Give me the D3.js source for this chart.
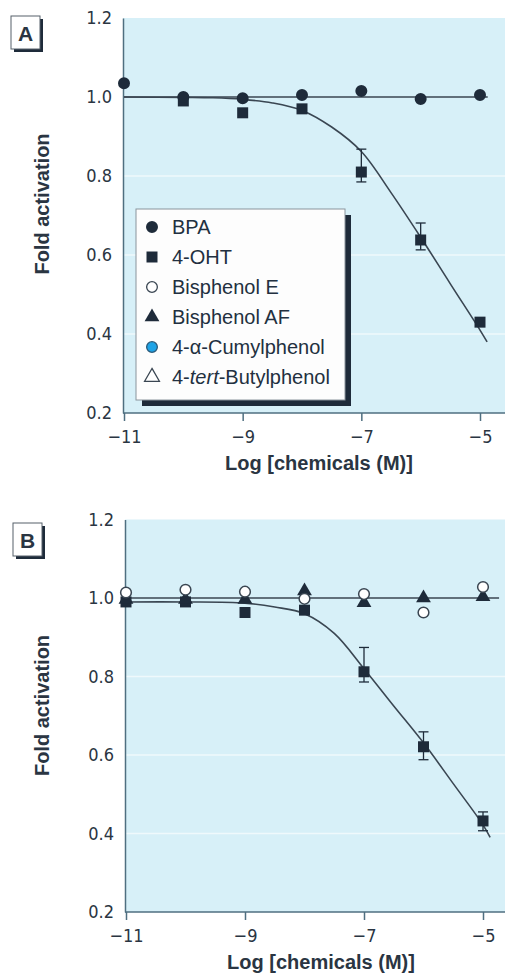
<!DOCTYPE html>
<html>
<head>
<meta charset="utf-8">
<script src="https://cdn.jsdelivr.net/npm/d3@7"></script>
<style>
  body { margin: 0; background: #fff; }
  svg { display: block; }
  .tick text { font-family: "Liberation Sans Narrow", "DejaVu Sans Condensed", "Liberation Sans", sans-serif; font-size: 18px; fill: #2a3542; }
</style>
</head>
<body>
<svg id="chart" width="505" height="977"></svg>
<script>
// ---- data ----
var xTicks = [-11, -9, -7, -5];
var yTicks = [0.2, 0.4, 0.6, 0.8, 1.0, 1.2];
var doses = [-11, -10, -9, -8, -7, -6, -5];

var legendNames = ["BPA", "4-OHT", "Bisphenol E", "Bisphenol AF", "4-\u03b1-Cumylphenol", "4-tert-Butylphenol"];

// panel A
var bpaA = [1.035, 1.0, 0.997, 1.005, 1.015, 0.995, 1.005];
var ohtDosesA = [-10, -9, -8, -7, -6, -5];
var ohtA = [0.99, 0.96, 0.97, 0.81, 0.638, 0.43];
var ohtErrHiA = [0, 0, 0, 0.058, 0.043, 0];
var ohtErrLoA = [0, 0, 0, 0.025, 0.025, 0];
var flatA = [[-11, 1.0], [-4.87, 1.0]];
var fitA = [[-11, 1.0], [-10, 0.999], [-9.5, 0.998], [-9, 0.994], [-8.5, 0.985], [-8, 0.966],
            [-7.5, 0.924], [-7, 0.862], [-6.5, 0.758], [-6, 0.645], [-5.5, 0.527], [-5, 0.41], [-4.88, 0.38]];

// panel B
var ohtB = [0.99, 0.99, 0.963, 0.969, 0.812, 0.621, 0.432];
var ohtErrHiB = [0, 0, 0, 0, 0.062, 0.038, 0.023];
var ohtErrLoB = [0, 0, 0, 0, 0.026, 0.033, 0.025];
var bisEB = [1.014, 1.021, 1.016, 0.998, 1.010, 0.963, 1.028];
var bisAFB = [0.996, 0.996, 0.996, 1.018, 0.988, 1.0, 1.003];
var flatB = [[-11, 1.0], [-4.73, 1.0]];
var fitB = [[-11, 0.99], [-10, 0.99], [-9, 0.987], [-8.5, 0.977], [-8, 0.96], [-7.5, 0.91],
            [-7, 0.82], [-6.5, 0.725], [-6, 0.631], [-5.5, 0.527], [-5, 0.422], [-4.88, 0.39]];

// ---- drawing ----
var dark = "#1e2b3a";
var svg = d3.select("#chart");

function drawPanel(p) {
    var x = d3.scaleLinear().domain([-11, -5]).range([p.x0, p.x1]);
    var y = d3.scaleLinear().domain([0.2, 1.2]).range([p.bottom, p.top]);
    var g = svg.append("g");

    g.append("rect")
        .attr("x", p.left).attr("y", p.top)
        .attr("width", 505 - p.left).attr("height", p.bottom - p.top)
        .attr("fill", "#d7f0f8");

    // faint white grid
    g.append("g").selectAll("line")
        .data([0.4, 0.6, 0.8])
        .enter().append("line")
        .attr("x1", p.left).attr("x2", 505)
        .attr("y1", function (d) { return y(d); })
        .attr("y2", function (d) { return y(d); })
        .attr("stroke", "#fff").attr("stroke-opacity", 0.6).attr("stroke-width", 1.5);

    var xAxis = g.append("g")
        .attr("transform", "translate(0," + p.bottom + ")")
        .call(d3.axisBottom(x).tickValues(xTicks).tickSize(8).tickPadding(9).tickFormat(d3.format("d")));
    xAxis.select(".domain").attr("d", "M" + p.left + ",0H505");
    xAxis.selectAll("line, .domain").attr("stroke", "#4f6f80").attr("stroke-width", 1.5);

    var yAxis = g.append("g")
        .attr("transform", "translate(" + p.left + ",0)")
        .call(d3.axisLeft(y).tickValues(yTicks).tickSize(0).tickPadding(11).tickFormat(d3.format(".1f")));
    yAxis.select(".domain").attr("stroke", "#4f6f80").attr("stroke-width", 1.5);

    g.append("text")
        .attr("x", p.left + 196).attr("y", p.bottom + 57)
        .attr("text-anchor", "middle")
        .style("font", "bold 20px 'Liberation Sans', Arial, sans-serif")
        .attr("fill", "#2a3542")
        .text("Log [chemicals (M)]");

    g.append("text")
        .attr("transform", "translate(49," + (p.top + 186) + ") rotate(-90)")
        .attr("text-anchor", "middle")
        .style("font", "bold 20px 'Liberation Sans', Arial, sans-serif")
        .attr("fill", "#2a3542")
        .text("Fold activation");

    // panel letter
    g.append("rect").attr("x", p.boxX + 3).attr("y", p.boxY + 3).attr("width", 29).attr("height", 33).attr("fill", dark);
    g.append("rect").attr("x", p.boxX).attr("y", p.boxY).attr("width", 29).attr("height", 33)
        .attr("fill", "#fff").attr("stroke", "#56606a").attr("stroke-width", 1);
    g.append("text")
        .attr("x", p.boxX + 14.5).attr("y", p.boxY + 25)
        .attr("text-anchor", "middle")
        .style("font", "bold 21px 'Liberation Sans', Arial, sans-serif")
        .attr("fill", "#2a3542")
        .text(p.letter);

    var line = d3.line()
        .x(function (d) { return x(d[0]); })
        .y(function (d) { return y(d[1]); });

    g.append("path").attr("d", line(p.flat)).attr("fill", "none").attr("stroke", "#3a4652").attr("stroke-width", 1.6);
    g.append("path").attr("d", line.curve(d3.curveCatmullRom.alpha(0.5))(p.fit))
        .attr("fill", "none").attr("stroke", "#3a4652").attr("stroke-width", 1.6);

    return { g: g, x: x, y: y };
}

function errorBars(P, xs, ys, hi, lo) {
    var eg = P.g.append("g").attr("stroke", dark).attr("stroke-width", 1.3);
    xs.forEach(function (d, i) {
        if (!hi[i] && !lo[i]) return;
        var cx = P.x(d), t = P.y(ys[i] + hi[i]), b = P.y(ys[i] - lo[i]);
        eg.append("line").attr("x1", cx).attr("x2", cx).attr("y1", t).attr("y2", b);
        eg.append("line").attr("x1", cx - 5).attr("x2", cx + 5).attr("y1", t).attr("y2", t);
        eg.append("line").attr("x1", cx - 5).attr("x2", cx + 5).attr("y1", b).attr("y2", b);
    });
}

var symCircle = d3.symbol().type(d3.symbolCircle).size(113);
var symOpen = d3.symbol().type(d3.symbolCircle).size(90);
var symSquare = d3.symbol().type(d3.symbolSquare).size(121);
var symTri = d3.symbol().type(d3.symbolTriangle).size(95);

function points(P, xs, ys, sym, fill, stroke) {
    P.g.append("g").selectAll("path")
        .data(ys)
        .enter().append("path")
        .attr("transform", function (d, i) { return "translate(" + P.x(xs[i]) + "," + P.y(d) + ")"; })
        .attr("d", sym)
        .attr("fill", fill)
        .attr("stroke", stroke || "none")
        .attr("stroke-width", 1.5);
}

// Panel A
var A = drawPanel({ letter: "A", top: 18, bottom: 413, left: 123, x0: 124, x1: 480, boxX: 11, boxY: 16, flat: flatA, fit: fitA });
errorBars(A, ohtDosesA, ohtA, ohtErrHiA, ohtErrLoA);
points(A, ohtDosesA, ohtA, symSquare, dark);
points(A, doses, bpaA, symCircle, dark);

// legend
var lg = A.g.append("g");
lg.append("rect").attr("x", 142).attr("y", 215).attr("width", 209).attr("height", 191).attr("fill", dark);
lg.append("rect").attr("x", 136).attr("y", 209).attr("width", 209).attr("height", 191)
    .attr("fill", "#fdfdfd").attr("stroke", "#8a949c").attr("stroke-width", 1);

var legendSyms = [
    { sym: symCircle, fill: dark, stroke: null },
    { sym: symSquare, fill: dark, stroke: null },
    { sym: symOpen, fill: "#fff", stroke: "#3a4652" },
    { sym: symTri, fill: dark, stroke: null },
    { sym: symOpen, fill: "#1ea3e6", stroke: "#2a5a7a" },
    { sym: symTri, fill: "#fff", stroke: "#3a4652" }
];

var rows = lg.selectAll("g.row")
    .data(legendNames)
    .enter().append("g")
    .attr("class", "row")
    .attr("transform", function (d, i) { return "translate(152," + (227 + i * 30) + ")"; });

rows.append("path")
    .attr("d", function (d, i) { return legendSyms[i].sym(); })
    .attr("fill", function (d, i) { return legendSyms[i].fill; })
    .attr("stroke", function (d, i) { return legendSyms[i].stroke || "none"; })
    .attr("stroke-width", 1.3);

rows.append("text")
    .attr("x", 20).attr("y", 7)
    .style("font", "20px 'Liberation Sans', Arial, sans-serif")
    .attr("fill", "#223040")
    .each(function (d) {
        var t = d3.select(this);
        if (d.indexOf("tert") >= 0) {
            t.append("tspan").text("4-");
            t.append("tspan").style("font-style", "italic").text("tert");
            t.append("tspan").text("-Butylphenol");
        } else {
            t.text(d);
        }
    });

// Panel B
var B = drawPanel({ letter: "B", top: 519.5, bottom: 912, left: 125, x0: 126, x1: 483, boxX: 13, boxY: 523, flat: flatB, fit: fitB });
errorBars(B, doses, ohtB, ohtErrHiB, ohtErrLoB);
points(B, doses, ohtB, symSquare, dark);
points(B, doses, bisAFB, symTri, dark);
points(B, doses, bisEB, symOpen, "#fff", "#3a4652");
</script>
</body>
</html>
